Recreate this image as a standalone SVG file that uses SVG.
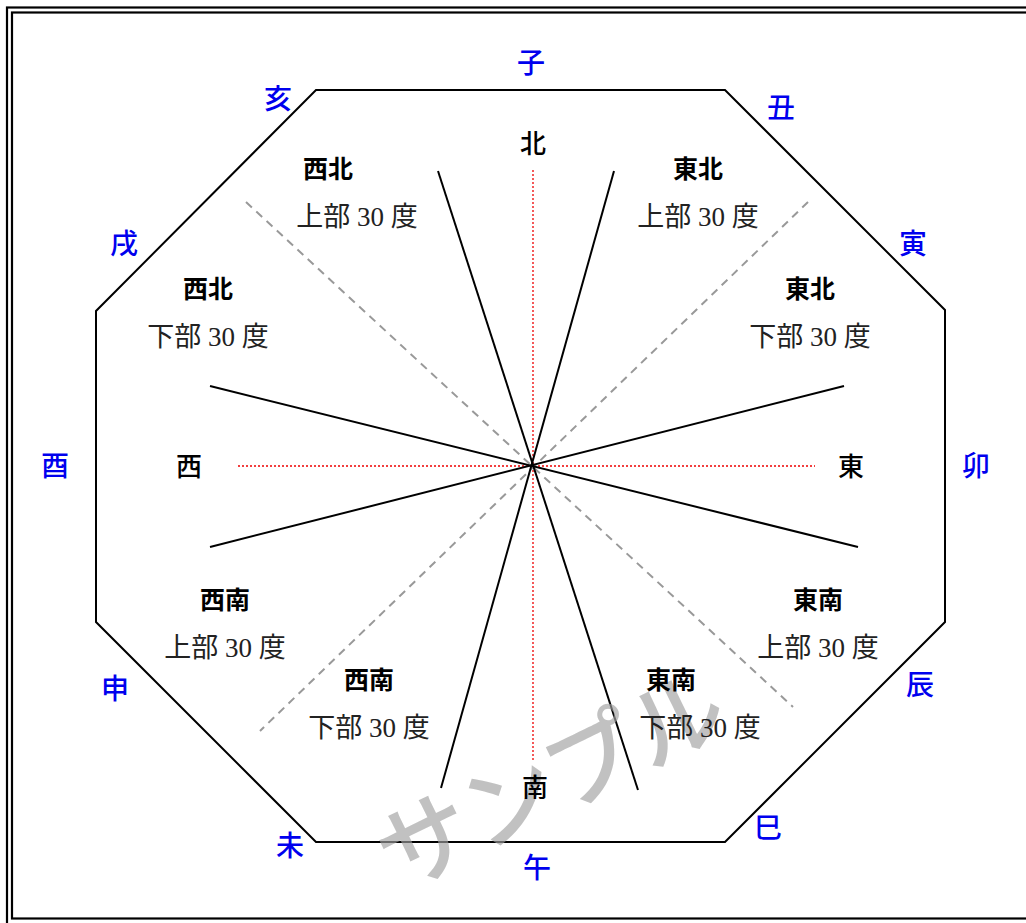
<svg xmlns="http://www.w3.org/2000/svg" width="1026" height="923" viewBox="0 0 1026 923">
<style>
.frame{fill:none;stroke:#000;stroke-width:2.2}
.oct{fill:none;stroke:#000;stroke-width:2}
.ray{stroke:#000;stroke-width:2;fill:none}
.diag{stroke:#999;stroke-width:2;stroke-dasharray:8,6;fill:none}
.axis{stroke:#e00;stroke-width:1.3;stroke-dasharray:2,2;fill:none}
.zhi{font-family:"Noto Sans CJK JP","Noto Sans CJK SC",sans-serif;font-size:28px;font-weight:500;fill:#0000ee;text-anchor:middle}
.dir{font-family:"Noto Sans CJK JP","Noto Sans CJK SC",sans-serif;font-size:26px;font-weight:500;fill:#000;text-anchor:middle}
.pair{font-family:"Noto Sans CJK JP","Noto Sans CJK SC",sans-serif;font-size:25px;font-weight:bold;fill:#000;text-anchor:middle}
.sub{font-family:"Liberation Serif","Noto Sans CJK JP",serif;font-size:27px;fill:#222;text-anchor:middle}
.wm{font-family:"Noto Sans CJK JP","Noto Sans CJK SC",sans-serif;font-size:94px;font-weight:500;fill:#a0a0a0;fill-opacity:0.65;text-anchor:middle}
</style>
<rect width="1026" height="923" fill="#fff"/>
<g id="frame">
<rect class="frame" x="7" y="7.5" width="1030" height="930"/>
<rect class="frame" x="12" y="12.5" width="1030" height="906"/>
</g>
<g id="octagon">
<polygon class="oct" points="316,90 725,90 945,310 945,622 725,842 316,842 96,622 96,311"/>
</g>
<g id="connectors">
<line class="axis" x1="533" y1="170" x2="533" y2="762"/>
<line class="axis" x1="238" y1="466" x2="815" y2="466"/>
<line class="diag" x1="246" y1="202" x2="793" y2="707"/>
<line class="diag" x1="808" y1="202" x2="260" y2="731"/>
<line class="ray" x1="438" y1="171" x2="638" y2="790"/>
<line class="ray" x1="614" y1="171" x2="441" y2="788"/>
<line class="ray" x1="210" y1="386" x2="858" y2="547"/>
<line class="ray" x1="844" y1="386" x2="210" y2="547"/>
</g>
<g id="zhi">
<text class="zhi" x="531" y="73">子</text>
<text class="zhi" x="781" y="118">丑</text>
<text class="zhi" x="913" y="254">寅</text>
<text class="zhi" x="976" y="476">卯</text>
<text class="zhi" x="920" y="695">辰</text>
<text class="zhi" x="768" y="838">巳</text>
<text class="zhi" x="537" y="878">午</text>
<text class="zhi" x="290" y="856">未</text>
<text class="zhi" x="115" y="699">申</text>
<text class="zhi" x="55" y="476">酉</text>
<text class="zhi" x="124" y="254">戌</text>
<text class="zhi" x="278" y="109">亥</text>
</g>
<g id="watermark">
<text class="wm" transform="translate(552,782) rotate(-26)" x="0" y="32">サンプル</text>
</g>
<g id="directions">
<text class="dir" x="533" y="153">北</text>
<text class="dir" x="851" y="476">東</text>
<text class="dir" x="535" y="797">南</text>
<text class="dir" x="189" y="476">西</text>
</g>
<g id="nw-upper"><text class="pair" x="328" y="178">西北</text><text class="sub" x="357" y="226">上部 30 度</text></g>
<g id="ne-upper"><text class="pair" x="698" y="178">東北</text><text class="sub" x="698" y="226">上部 30 度</text></g>
<g id="nw-lower"><text class="pair" x="208" y="298">西北</text><text class="sub" x="208" y="346">下部 30 度</text></g>
<g id="ne-lower"><text class="pair" x="810" y="298">東北</text><text class="sub" x="810" y="346">下部 30 度</text></g>
<g id="sw-upper"><text class="pair" x="225" y="609">西南</text><text class="sub" x="225" y="657">上部 30 度</text></g>
<g id="se-upper"><text class="pair" x="818" y="609">東南</text><text class="sub" x="818" y="657">上部 30 度</text></g>
<g id="sw-lower"><text class="pair" x="369" y="689">西南</text><text class="sub" x="369" y="737">下部 30 度</text></g>
<g id="se-lower"><text class="pair" x="671" y="689">東南</text><text class="sub" x="700" y="737">下部 30 度</text></g>
</svg>
